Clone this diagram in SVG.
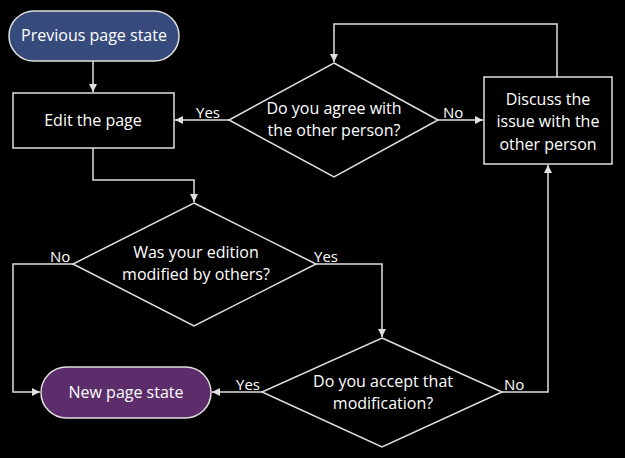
<svg xmlns="http://www.w3.org/2000/svg" width="625" height="458" viewBox="0 0 625 458">
<style>
.bg{fill:#000}
.shape{stroke:#e0e0e0;stroke-width:1.5}
.box{fill:#000}
.t{fill:#fff;font-family:"Open Sans","Noto Sans","DejaVu Sans",sans-serif;font-size:16px;text-anchor:middle}
.lbl{fill:#fff;font-family:"Open Sans","Noto Sans","DejaVu Sans",sans-serif;font-size:15px}
.c{fill:none;stroke:#e0e0e0;stroke-width:1.5}
</style>
<defs>
<marker id="ah" viewBox="0 0 10 10" refX="10" refY="5" markerWidth="8" markerHeight="8" markerUnits="userSpaceOnUse" orient="auto">
<path d="M0,0 L10,5 L0,10 z" fill="#e0e0e0"/>
</marker>
</defs>
<rect class="bg" x="0" y="0" width="625" height="458"/>
<g id="connectors">
<line class="c" x1="93" y1="61" x2="93" y2="92" marker-end="url(#ah)"/>
<polyline class="c" points="93,148 93,180 194,180 194,202" marker-end="url(#ah)"/>
<line class="c" x1="229" y1="120" x2="175" y2="120" marker-end="url(#ah)"/>
<line class="c" x1="438" y1="120" x2="483" y2="120" marker-end="url(#ah)"/>
<polyline class="c" points="557,77 557,24 334,24 334,62" marker-end="url(#ah)"/>
<polyline class="c" points="73,264 13,264 13,392 40,392" marker-end="url(#ah)"/>
<polyline class="c" points="316,264 382,264 382,337" marker-end="url(#ah)"/>
<line class="c" x1="262" y1="392" x2="212" y2="392" marker-end="url(#ah)"/>
<polyline class="c" points="502,392 548,392 548,165" marker-end="url(#ah)"/>
<text class="lbl" x="196" y="118">Yes</text>
<text class="lbl" x="443" y="118">No</text>
<text class="lbl" x="50" y="262">No</text>
<text class="lbl" x="314" y="262">Yes</text>
<text class="lbl" x="236" y="390">Yes</text>
<text class="lbl" x="504" y="390">No</text>
</g>
<g id="prev">
<rect class="shape" x="9" y="11" width="170" height="50" rx="25" fill="#364b7b"/>
<text class="t" x="94" y="41">Previous page state</text>
</g>
<g id="edit">
<rect class="shape box" x="13" y="93" width="161" height="55"/>
<text class="t" x="93" y="126">Edit the page</text>
</g>
<g id="agree">
<polygon class="shape box" points="334,63 438,120 334,177 229,120"/>
<text class="t" x="334" y="114">Do you agree with</text>
<text class="t" x="334" y="136">the other person?</text>
</g>
<g id="discuss">
<rect class="shape box" x="484" y="77" width="128" height="87"/>
<text class="t" x="548" y="105">Discuss the</text>
<text class="t" x="548" y="127">issue with the</text>
<text class="t" x="548" y="150">other person</text>
</g>
<g id="modified">
<polygon class="shape box" points="194,203 316,264 194,326 73,264"/>
<text class="t" x="196" y="258">Was your edition</text>
<text class="t" x="196" y="280">modified by others?</text>
</g>
<g id="accept">
<polygon class="shape box" points="382,338 502,392 382,447 262,392"/>
<text class="t" x="383" y="387">Do you accept that</text>
<text class="t" x="383" y="409">modification?</text>
</g>
<g id="new">
<rect class="shape" x="41" y="367" width="170" height="51" rx="25.5" fill="#5c2d6a"/>
<text class="t" x="126" y="398">New page state</text>
</g>
</svg>
